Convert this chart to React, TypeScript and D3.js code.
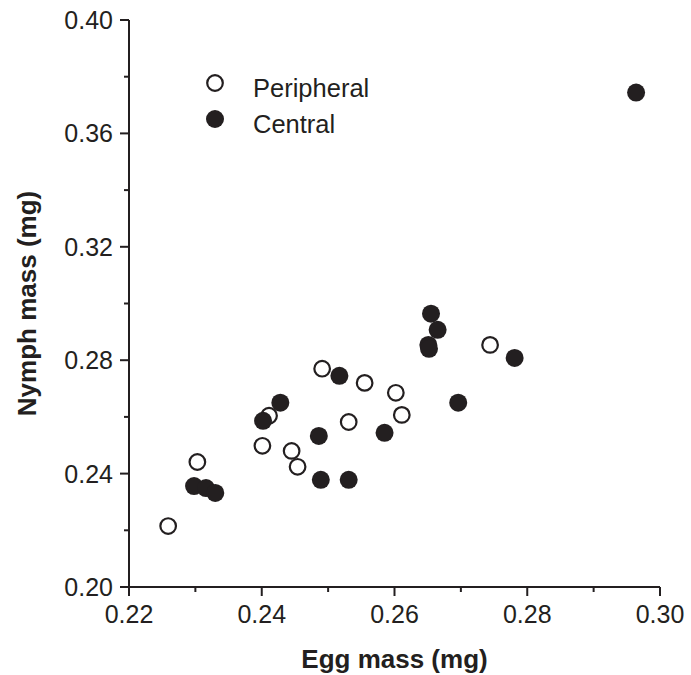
import React from 'react'
import { scaleLinear, range } from 'd3'

// Peripheral (open circles)
const periphEgg = [0.2259, 0.2303, 0.2411, 0.2401, 0.2445, 0.2454, 0.2491, 0.2555, 0.2531, 0.2602, 0.2611, 0.2744]
const periphNymph = [0.2215, 0.2441, 0.2604, 0.2498, 0.2480, 0.2424, 0.2770, 0.2720, 0.2582, 0.2685, 0.2607, 0.2854]

// Central (filled circles)
const centralEgg = [0.2298, 0.2316, 0.2330, 0.2402, 0.2428, 0.2486, 0.2489, 0.2531, 0.2517, 0.2585, 0.2655, 0.2665, 0.2651, 0.2652, 0.2781, 0.2696, 0.2964]
const centralNymph = [0.2356, 0.2349, 0.2332, 0.2586, 0.2650, 0.2533, 0.2378, 0.2378, 0.2745, 0.2544, 0.2964, 0.2907, 0.2854, 0.2840, 0.2808, 0.2650, 0.3744]

const xTicks = [0.22, 0.24, 0.26, 0.28, 0.3]
const yTicks = [0.2, 0.24, 0.28, 0.32, 0.36, 0.4]

const W = 691
const H = 675
const margin = { top: 20, right: 31, bottom: 88, left: 129 }
const ink = '#231f20'
const font = '"Liberation Sans", Arial, sans-serif'

const App = () => {
  const x = scaleLinear().domain([0.22, 0.3]).range([margin.left, W - margin.right])
  const y = scaleLinear().domain([0.2, 0.4]).range([H - margin.bottom, margin.top])
  const x0 = margin.left
  const y0 = H - margin.bottom
  const xMinor = range(0.23, 0.3, 0.02)
  const yMinor = range(0.22, 0.4, 0.04)
  const rOpen = 7.8
  const rFill = 9

  return (
    <div style={{ position: 'absolute', left: 0, top: 0 }}>
      <svg width={W} height={H} style={{ display: 'block', background: '#fff' }}>
        {/* axes */}
        <line x1={x0} x2={x(0.3)} y1={y0} y2={y0} stroke={ink} strokeWidth={2} />
        <line x1={x0} x2={x0} y1={y(0.4)} y2={y0} stroke={ink} strokeWidth={2} />
        {xTicks.map(t => (
          <g key={'xt' + t}>
            <line x1={x(t)} x2={x(t)} y1={y0} y2={y0 + 9} stroke={ink} strokeWidth={2} />
            <text x={x(t)} y={y0 + 36} textAnchor="middle" fontFamily={font} fontSize={25} fill={ink}>
              {t.toFixed(2)}
            </text>
          </g>
        ))}
        {xMinor.map(t => (
          <line key={'xm' + t} x1={x(t)} x2={x(t)} y1={y0} y2={y0 + 5} stroke={ink} strokeWidth={2} />
        ))}
        {yTicks.map(t => (
          <g key={'yt' + t}>
            <line x1={x0 - 9} x2={x0} y1={y(t)} y2={y(t)} stroke={ink} strokeWidth={2} />
            <text x={x0 - 16} y={y(t)} dy="0.36em" textAnchor="end" fontFamily={font} fontSize={25} fill={ink}>
              {t.toFixed(2)}
            </text>
          </g>
        ))}
        {yMinor.map(t => (
          <line key={'ym' + t} x1={x0 - 5} x2={x0} y1={y(t)} y2={y(t)} stroke={ink} strokeWidth={2} />
        ))}

        {/* axis titles */}
        <text x={(x0 + x(0.3)) / 2} y={668} textAnchor="middle" fontFamily={font} fontSize={26} fontWeight="bold" fill={ink}>
          Egg mass (mg)
        </text>
        <text
          transform={`translate(36,${(y(0.2) + y(0.4)) / 2}) rotate(-90)`}
          textAnchor="middle"
          fontFamily={font}
          fontSize={26}
          fontWeight="bold"
          fill={ink}
        >
          Nymph mass (mg)
        </text>

        {/* points */}
        {periphEgg.map((e, i) => (
          <circle key={'p' + i} cx={x(e)} cy={y(periphNymph[i])} r={rOpen} fill="#fff" stroke={ink} strokeWidth={2.2} />
        ))}
        {centralEgg.map((e, i) => (
          <circle key={'c' + i} cx={x(e)} cy={y(centralNymph[i])} r={rFill} fill={ink} />
        ))}

        {/* legend */}
        <circle cx={215} cy={83} r={rOpen} fill="#fff" stroke={ink} strokeWidth={2.2} />
        <text x={253} y={97} fontFamily={font} fontSize={25.5} fill={ink}>Peripheral</text>
        <circle cx={215} cy={119} r={rFill} fill={ink} />
        <text x={253} y={133} fontFamily={font} fontSize={25.5} fill={ink}>Central</text>
      </svg>
    </div>
  )
}

export default App
